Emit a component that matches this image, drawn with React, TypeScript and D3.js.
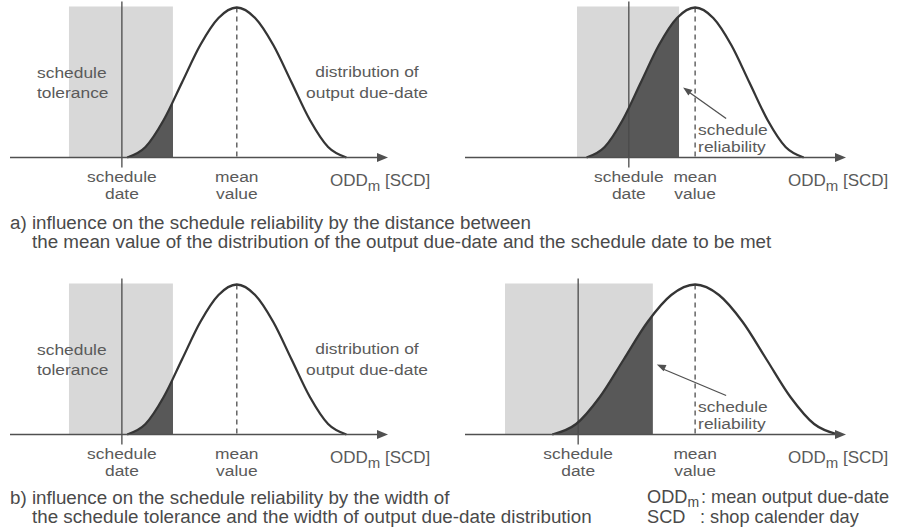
import React from "react";
import * as d3 from "d3";

// ---- data (in shop calendar days, axis domain 0..100) ----
const panelNames = ["a-left", "a-right", "b-left", "b-right"];
const scheduleDates = [29.6, 43.0, 29.6, 29.7];
const toleranceLow = [15.6, 29.4, 15.6, 10.5];
const toleranceHigh = [43.1, 56.2, 43.1, 49.3];
const meanValues = [60.0, 60.4, 60.0, 60.4];
const halfWidths = [29, 28.5, 29, 37.5];
const showReliabilityNote = [false, true, false, true];
const showSideLabels = [true, false, true, false];

// normalised bell profile (offset in half-widths -> relative height)
const bellOffsets = [-1, -0.833, -0.667, -0.5, -0.333, -0.167, 0, 0.167, 0.333, 0.5, 0.667, 0.833, 1];
const bellHeights = [0, 0.07, 0.25, 0.5, 0.75, 0.93, 1, 0.93, 0.75, 0.5, 0.25, 0.07, 0];

const captionA = [
  "a) influence on the schedule reliability by the distance between",
  "the mean value of the distribution of the output due-date and the schedule date to be met",
];
const captionB = [
  "b) influence on the schedule reliability by the width of",
  "the schedule tolerance and the width of output due-date distribution",
];
const legendSymbols = ["ODD", "SCD"];
const legendSubs = ["m", ""];
const legendTexts = [": mean output due-date", ": shop calender day"];

// ---- layout ----
const W = 910;
const H = 532;
const frames = [
  { x0: 10, x1: 388, axisY: 157.5 },
  { x0: 465, x1: 846, axisY: 157.5 },
  { x0: 10, x1: 388, axisY: 434.5 },
  { x0: 465, x1: 846, axisY: 434.5 },
];
const PEAK = 150;
const LABEL_FONT = "'Liberation Sans', Arial, sans-serif";
const LABEL_SIZE = 14.5;
const STRETCH = 1.2;
const LABEL_COLOR = "#5a5a5a";
const TEXT_COLOR = "#4a4a4a";

function SLabel({ x, y, anchor = "middle", children }: any) {
  return (
    <text
      transform={`translate(${x},${y}) scale(${STRETCH},1)`}
      textAnchor={anchor}
      fontFamily={LABEL_FONT}
      fontSize={LABEL_SIZE}
      fill={LABEL_COLOR}
    >
      {children}
    </text>
  );
}

function Panel({ i }: { i: number }) {
  const f = frames[i];
  const x = d3.scaleLinear().domain([0, 100]).range([f.x0, f.x1]);
  const y = d3.scaleLinear().domain([0, 1]).range([f.axisY, f.axisY - PEAK]);
  const pts: [number, number][] = bellOffsets.map((o, k) => [
    meanValues[i] + o * halfWidths[i],
    bellHeights[k],
  ]);
  const line = d3
    .line<[number, number]>()
    .x((d) => x(d[0]))
    .y((d) => y(d[1]))
    .curve(d3.curveMonotoneX);
  const area = d3
    .area<[number, number]>()
    .x((d) => x(d[0]))
    .y0(y(0))
    .y1((d) => y(d[1]))
    .curve(d3.curveMonotoneX);
  const clipId = `clip-${panelNames[i]}`;
  const xs = x(scheduleDates[i]);
  const xm = x(meanValues[i]);
  const xtl = x(toleranceLow[i]);
  const xth = x(toleranceHigh[i]);
  const ay = f.axisY;
  const tip = f.x1;
  return (
    <g>
      <defs>
        <clipPath id={clipId}>
          <rect x={0} y={0} width={xth} height={H} />
        </clipPath>
      </defs>
      <rect x={xtl} y={ay - PEAK - 1} width={xth - xtl} height={PEAK + 1} fill="#d8d8d8" />
      <path d={area(pts) || ""} fill="#585858" clipPath={`url(#${clipId})`} />
      <line x1={xs} x2={xs} y1={ay - PEAK - 6} y2={ay + 10} stroke="#4a4a4a" strokeWidth={1.3} />
      <line
        x1={xm}
        x2={xm}
        y1={ay - PEAK}
        y2={ay}
        stroke="#5a5a5a"
        strokeWidth={1.4}
        strokeDasharray="5,4"
      />
      <path d={line(pts) || ""} fill="none" stroke="#353535" strokeWidth={2.3} />
      <line x1={f.x0} x2={tip - 8} y1={ay} y2={ay} stroke="#505050" strokeWidth={1.6} />
      <path d={`M${tip},${ay} L${tip - 11},${ay - 4.5} L${tip - 11},${ay + 4.5} Z`} fill="#505050" />

      <SLabel x={xs} y={ay + 24}>schedule</SLabel>
      <SLabel x={xs} y={ay + 41}>date</SLabel>
      <SLabel x={xm} y={ay + 24}>mean</SLabel>
      <SLabel x={xm} y={ay + 41}>value</SLabel>

      <text x={tip - 58} y={ay + 28} fontFamily={LABEL_FONT} fontSize={17} fill={LABEL_COLOR}>
        ODD
        <tspan fontSize={15} dy={5}>m</tspan>
        <tspan dy={-5}> [SCD]</tspan>
      </text>

      {showSideLabels[i] && (
        <g>
          <SLabel x={37} y={ay - 80} anchor="start">schedule</SLabel>
          <SLabel x={37} y={ay - 60} anchor="start">tolerance</SLabel>
          <SLabel x={367} y={ay - 81} anchor="middle">distribution of</SLabel>
          <SLabel x={367} y={ay - 60} anchor="middle">output due-date</SLabel>
        </g>
      )}
      {showReliabilityNote[i] && (
        <g>
          <line x1={xm + 31} y1={ay - 39} x2={xth + 9} y2={ay - 66} stroke="#505050" strokeWidth={1.3} />
          <path
            d={(() => {
              const hx = xth + 4;
              const hy = ay - 70;
              const tx = xm + 31;
              const ty = ay - 39;
              const ang = Math.atan2(ty - hy, tx - hx);
              const L = 9;
              const w = 3.5;
              const bx = hx + L * Math.cos(ang);
              const by = hy + L * Math.sin(ang);
              const px = -Math.sin(ang) * w;
              const py = Math.cos(ang) * w;
              return `M${hx},${hy} L${bx + px},${by + py} L${bx - px},${by - py} Z`;
            })()}
            fill="#505050"
          />
          <SLabel x={xm + 3} y={ay - 23} anchor="start">schedule</SLabel>
          <SLabel x={xm + 3} y={ay - 6} anchor="start">reliability</SLabel>
        </g>
      )}
    </g>
  );
}

export default function App() {
  const capStyle = { fontFamily: LABEL_FONT, fontSize: 18.8, fill: TEXT_COLOR } as any;
  const legStyle = { fontFamily: LABEL_FONT, fontSize: 18.2, fill: TEXT_COLOR } as any;
  return (
    <svg
      width={W}
      height={H}
      viewBox={`0 0 ${W} ${H}`}
      style={{ position: "absolute", left: 0, top: 0, background: "#fff" }}
    >
      <rect x={0} y={0} width={W} height={H} fill="#fff" />
      {panelNames.map((_, i) => (
        <Panel key={i} i={i} />
      ))}
      <text x={10} y={229} {...capStyle}>{captionA[0]}</text>
      <text x={32} y={248} {...capStyle}>{captionA[1]}</text>
      <text x={10} y={504} {...capStyle}>{captionB[0]}</text>
      <text x={32} y={523} {...capStyle}>{captionB[1]}</text>

      {legendSymbols.map((s, k) => (
        <g key={k}>
          <text x={647} y={503 + k * 20} {...legStyle}>
            {s}
            {legendSubs[k] && (
              <tspan fontSize={14} dy={4}>
                {legendSubs[k]}
              </tspan>
            )}
          </text>
          <text x={k === 0 ? 701 : 700} y={503 + k * 20} {...legStyle}>
            {legendTexts[k]}
          </text>
        </g>
      ))}
    </svg>
  );
}
